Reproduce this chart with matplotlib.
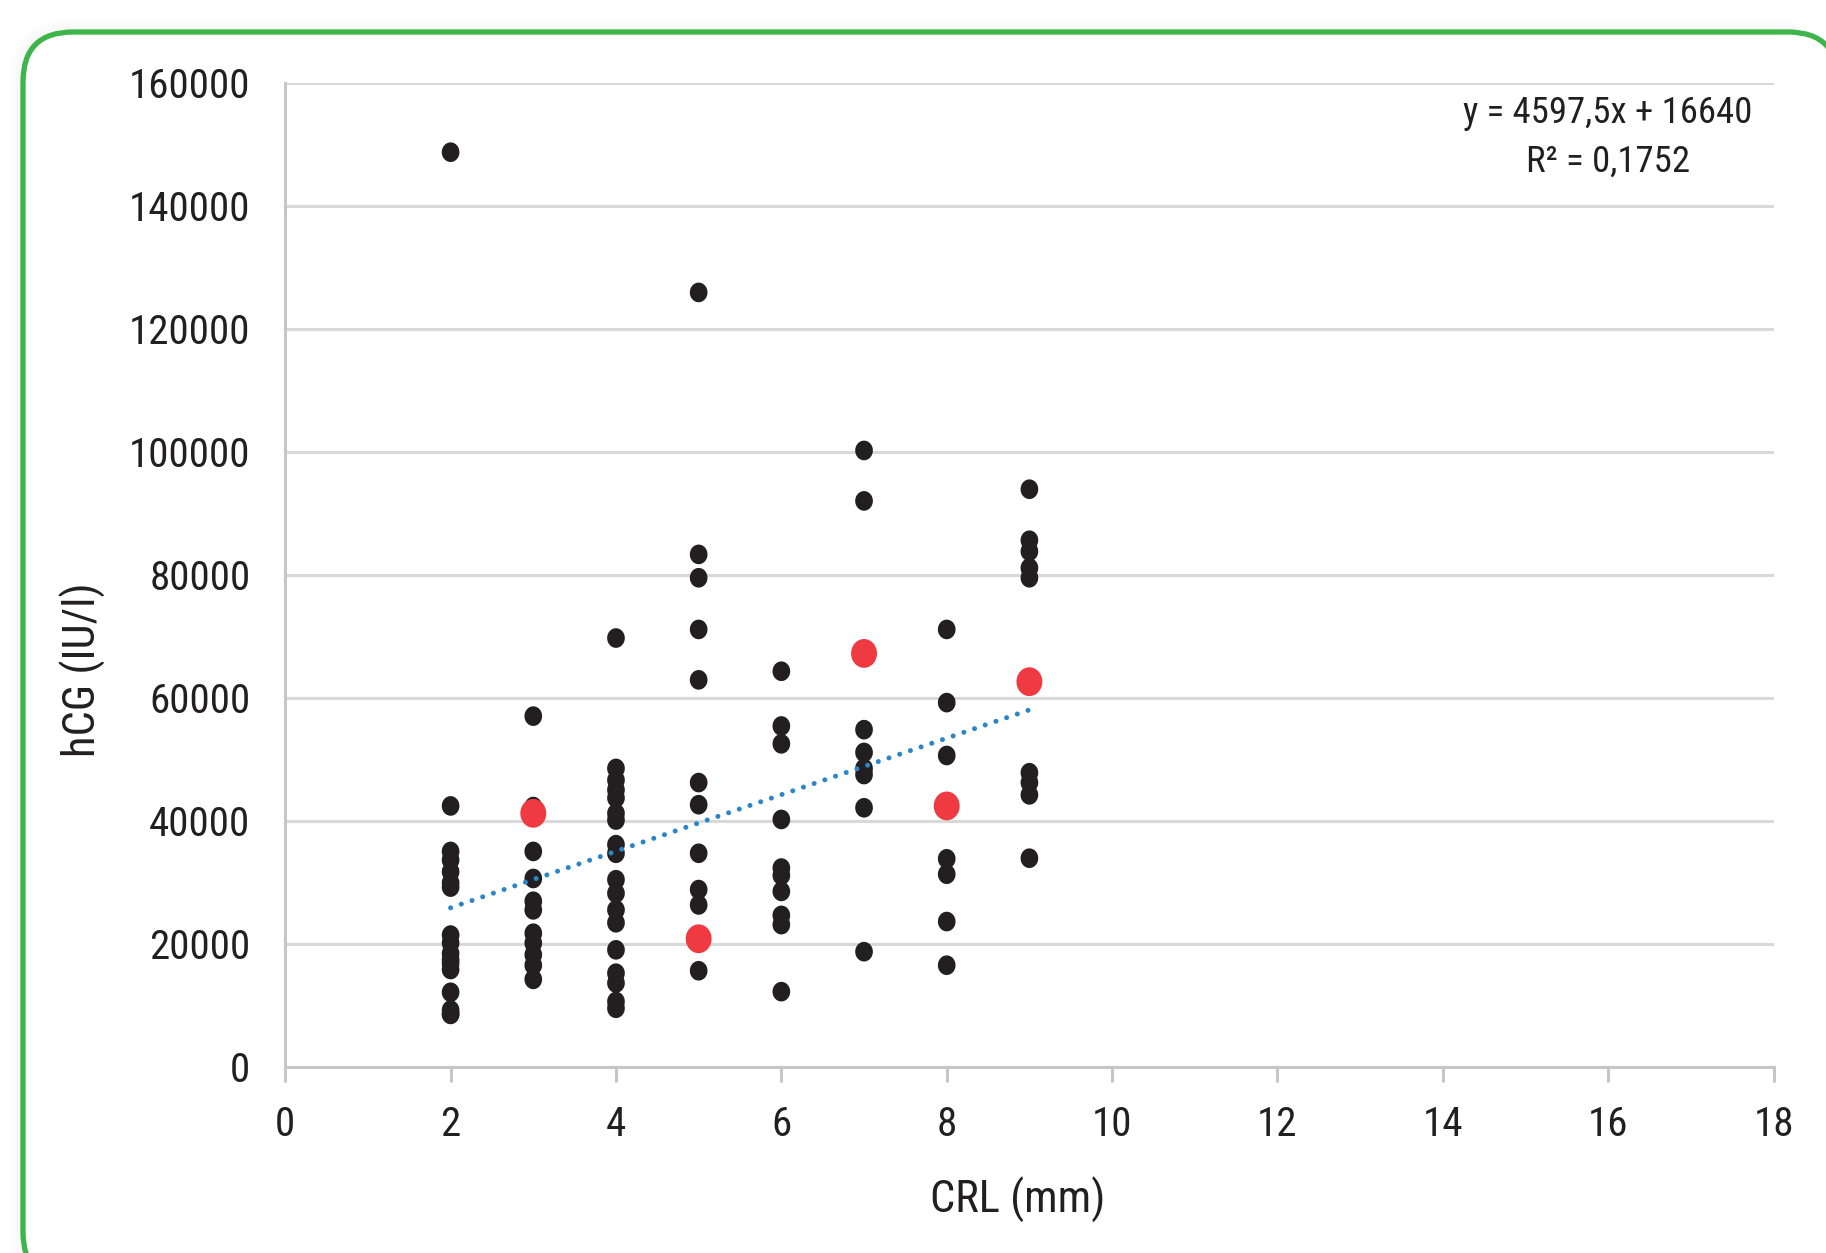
import matplotlib
matplotlib.use("Agg")
import matplotlib.pyplot as plt
from matplotlib import font_manager as fm
from matplotlib.patches import FancyBboxPatch
from matplotlib.transforms import IdentityTransform
from matplotlib.path import Path
import numpy as np

# ---------------- data ----------------
crl_2 = [2] * 17
hcg_2 = [148700, 42400, 35000, 33600, 31700, 29900, 29200, 21400, 20100,
         18400, 17400, 16800, 15800, 12100, 9200, 8600, 8500]
crl_3 = [3] * 12
hcg_3 = [57000, 42300, 35000, 30600, 26900, 25500, 21700, 20100, 18200,
         16500, 14200, 41500]
crl_4 = [4] * 18
hcg_4 = [69700, 48500, 46600, 45000, 43700, 41200, 40100, 36100, 34700,
         30400, 28200, 25500, 23400, 19000, 15200, 13600, 10600, 9500]
crl_5 = [5] * 12
hcg_5 = [125900, 83300, 79500, 71100, 62900, 46200, 42600, 34700, 28800,
         26300, 21200, 15600]
crl_6 = [6] * 10
hcg_6 = [64300, 55400, 52500, 40200, 32300, 31100, 28500, 24600, 23100, 12200]
crl_7 = [7] * 8
hcg_7 = [100200, 92000, 54800, 51100, 48500, 47500, 42100, 18700]
crl_8 = [8] * 8
hcg_8 = [71100, 59200, 50600, 42400, 33800, 31300, 23600, 16500]
crl_9 = [9] * 9
hcg_9 = [93900, 85600, 83800, 81100, 79500, 47800, 46200, 44200, 33900]

# highlighted (red) cases
crl_red = [3, 5, 7, 8, 9]
hcg_red = [41200, 20800, 67200, 42400, 62600]

# linear trend reported on the chart
trend_slope = 4597.5
trend_intercept = 16640
trend_x = [2, 9]
eq_line1 = "y = 4597,5x + 16640"
eq_line2 = "R² = 0,1752"

x_ticks = list(range(0, 19, 2))
y_ticks = list(range(0, 160001, 20000))
x_label = "CRL (mm)"
y_label = "hCG (IU/l)"

# ---------------- font ----------------
names = {f.name for f in fm.fontManager.ttflist}
FONT = "DejaVu Sans"
for cand in ["Roboto Condensed", "Liberation Sans Narrow", "DejaVu Sans Condensed",
             "Roboto", "Liberation Sans"]:
    if cand in names:
        FONT = cand
        break
plt.rcParams["font.family"] = [FONT, "DejaVu Sans"]

TXT = "#231f20"
GRID = "#d9d9d9"
AXC = "#c6c6c6"

W, H = 1826, 1253
fig = plt.figure(figsize=(W / 100, H / 100), dpi=100)
fig.patch.set_facecolor("white")

# ---------------- frame with soft shadow ----------------
bx0, by0 = 23, H - 1282          # bottom-left in display pixel coords
bx1, by1 = 1838, H - 32          # top-right
RAD = 50
for i in range(1, 15):
    sh = FancyBboxPatch((bx0 - i, by0 - i), (bx1 - bx0) + 2 * i, (by1 - by0) + 2 * i,
                        boxstyle=f"round,pad=0,rounding_size={RAD + i}",
                        transform=IdentityTransform(), fill=False,
                        edgecolor="black", alpha=0.018 * (15 - i) / 14,
                        linewidth=1.5, zorder=-3)
    fig.patches.append(sh)
frame = FancyBboxPatch((bx0, by0), bx1 - bx0, by1 - by0,
                       boxstyle=f"round,pad=0,rounding_size={RAD}",
                       transform=IdentityTransform(), facecolor="white",
                       edgecolor="#3db54a", linewidth=3.8, zorder=-2)
fig.patches.append(frame)

# slightly tall elliptical marker, like the original
th = np.linspace(0, 2 * np.pi, 60)
ell = Path(np.column_stack([0.9 * np.cos(th), np.sin(th)]), closed=True)

# ---------------- axes ----------------
ax = fig.add_axes([0.1562, 0.1487, 0.8151, 0.7853])
ax.set_zorder(1)
ax.set_facecolor("none")
ax.set_xlim(0, 18)
ax.set_ylim(0, 160000)
ax.set_xticks(x_ticks)
ax.set_yticks(y_ticks)
ax.set_xticklabels([str(v) for v in x_ticks])
ax.set_yticklabels([str(v) for v in y_ticks])

ax.grid(axis="y", color=GRID, linewidth=2.2, zorder=0)
ax.set_axisbelow(True)
for s in ["top", "right"]:
    ax.spines[s].set_visible(False)
for s in ["left", "bottom"]:
    ax.spines[s].set_color(AXC)
    ax.spines[s].set_linewidth(2.2)

ax.tick_params(axis="x", direction="out", length=10.8, width=2.2, color=AXC,
               labelsize=29.5, labelcolor=TXT, pad=17)
ax.tick_params(axis="y", length=0, labelsize=29.5, labelcolor=TXT, pad=25)

# black points
all_x = crl_2 + crl_3 + crl_4 + crl_5 + crl_6 + crl_7 + crl_8 + crl_9
all_y = hcg_2 + hcg_3 + hcg_4 + hcg_5 + hcg_6 + hcg_7 + hcg_8 + hcg_9
ax.scatter(all_x, all_y, s=200, marker=ell, color=TXT, edgecolors="none",
           zorder=3, clip_on=False)

# trend line (dotted)
tx = np.array(trend_x, dtype=float)
ax.plot(tx, trend_slope * tx + trend_intercept, color="#2a86c6", linewidth=3.6,
        linestyle=(0, (0.01, 2.25)), dash_capstyle="round", zorder=4)

# red highlighted points
ax.scatter(crl_red, hcg_red, s=430, marker=ell, color="#ee3a40",
           edgecolors="none", zorder=5)

# equation
ax.text(0.8888, 0.9692, eq_line1, transform=ax.transAxes, ha="center",
        va="center", fontsize=26.5, color=TXT)
ax.text(0.8888, 0.9194, eq_line2, transform=ax.transAxes, ha="center",
        va="center", fontsize=26.5, color=TXT)

# axis labels
ax.set_xlabel(x_label, fontsize=32, color=TXT, va="center")
ax.xaxis.set_label_coords(0.4923, -0.1355)
ax.set_ylabel(y_label, fontsize=32, color=TXT, va="center", ha="center")
ax.yaxis.set_label_coords(-0.136, 0.403)

fig.savefig("out.png", dpi=100, facecolor="white")
